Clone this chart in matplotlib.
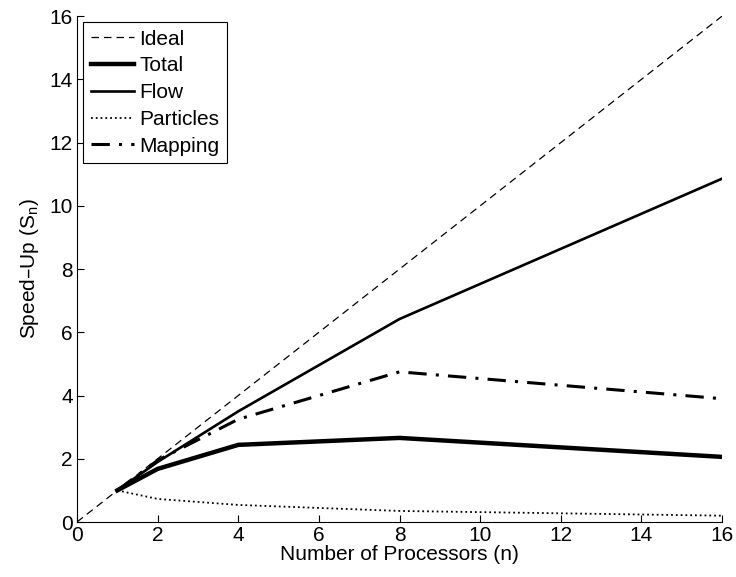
import numpy as np
import matplotlib.pyplot as plt

plt.rcParams['font.family'] = ['Liberation Sans', 'DejaVu Sans']

# processors and speed-up values
procs = [1, 2, 4, 8, 16]
ideal_x = [0, 16]
ideal_y = [0, 16]
total = [1.0, 1.68, 2.44, 2.66, 2.06]
flow = [1.0, 1.9, 3.5, 6.42, 10.86]
particles = [1.0, 0.73, 0.54, 0.35, 0.2]
mapping = [1.0, 1.95, 3.25, 4.75, 3.9]

fig = plt.figure(figsize=(7.36, 5.77), dpi=100)
ax = fig.add_axes([0.1046, 0.0953, 0.8764, 0.8767])

ax.plot(ideal_x, ideal_y, 'k--', lw=0.9, dashes=(6, 4), label='Ideal')
ax.plot(procs, total, 'k-', lw=3.2, label='Total')
ax.plot(procs, flow, 'k-', lw=1.9, label='Flow')
ax.plot(procs, particles, 'k:', lw=1.3, label='Particles')
ax.plot(procs, mapping, 'k-.', lw=2.2, dashes=(6, 3, 1, 3), label='Mapping')

ax.set_xlim(0, 16)
ax.set_ylim(0, 16)
ax.set_xticks(np.arange(0, 17, 2))
ax.set_yticks(np.arange(0, 17, 2))
ax.tick_params(direction='in', length=5, labelsize=15, pad=3)
ax.spines['top'].set_visible(False)
ax.spines['right'].set_visible(False)
ax.set_xlabel('Number of Processors (n)', fontsize=15, labelpad=0)
ax.set_ylabel('Speed\u2013Up (S$_\\mathregular{n}$)', fontsize=15, labelpad=6)

leg = ax.legend(loc='upper left', fontsize=15, fancybox=False, edgecolor='k',
                framealpha=1, handlelength=2.1, handletextpad=0.25,
                labelspacing=0.37, borderpad=0.35, borderaxespad=0.3)
leg.get_frame().set_linewidth(0.8)

fig.savefig('out.png')
